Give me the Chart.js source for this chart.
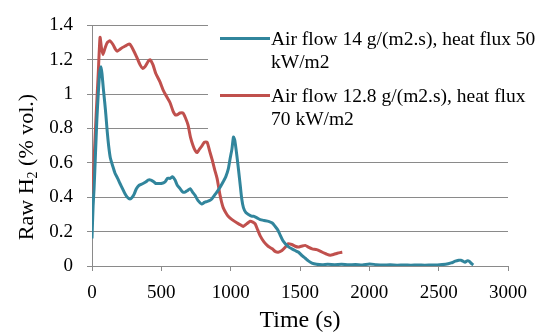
<!DOCTYPE html>
<html>
<head>
<meta charset="utf-8">
<script src="https://cdn.jsdelivr.net/npm/chart.js@4"></script>
<style>
  html, body { margin: 0; padding: 0; background: #fff; }
  #wrap { width: 543px; height: 335px; position: relative; }
</style>
</head>
<body>
<div id="wrap"><canvas id="chart"></canvas></div>
<script>
// Air flow 14 g/(m2.s), heat flux 50 kW/m2
const blueTime = [0, 8, 15, 25, 35, 45, 55, 65, 72, 82, 92, 100, 110, 120, 132, 150, 166, 185, 202, 220, 238, 255, 274, 290, 305, 320, 340, 368, 390, 404, 425, 445, 460, 476, 500, 527, 545, 565, 580, 599, 615, 635, 655, 671, 690, 708, 725, 744, 765, 792, 810, 828, 846, 864, 882, 900, 925, 946, 965, 983, 995, 1009, 1020, 1030, 1045, 1058, 1069, 1080, 1092, 1110, 1128, 1150, 1164, 1190, 1213, 1240, 1273, 1300, 1321, 1340, 1357, 1375, 1394, 1420, 1442, 1465, 1490, 1515, 1538, 1560, 1586, 1620, 1660, 1700, 1750, 1800, 1850, 1900, 1950, 2000, 2050, 2100, 2150, 2200, 2250, 2300, 2350, 2400, 2450, 2490, 2550, 2590, 2620, 2645, 2660, 2675, 2690, 2705, 2720, 2735, 2750];
const blueValues = [0.16, 0.35, 0.45, 0.65, 0.85, 1.0, 1.12, 1.16, 1.12, 1.03, 0.95, 0.88, 0.78, 0.70, 0.63, 0.58, 0.54, 0.51, 0.48, 0.45, 0.42, 0.40, 0.39, 0.40, 0.42, 0.45, 0.47, 0.48, 0.49, 0.50, 0.50, 0.49, 0.48, 0.48, 0.48, 0.49, 0.51, 0.51, 0.52, 0.50, 0.47, 0.45, 0.43, 0.43, 0.44, 0.45, 0.43, 0.41, 0.38, 0.36, 0.37, 0.375, 0.38, 0.39, 0.41, 0.43, 0.46, 0.49, 0.52, 0.565, 0.62, 0.68, 0.75, 0.73, 0.64, 0.55, 0.47, 0.39, 0.34, 0.31, 0.30, 0.29, 0.29, 0.28, 0.27, 0.265, 0.26, 0.25, 0.23, 0.21, 0.18, 0.15, 0.13, 0.11, 0.10, 0.09, 0.08, 0.06, 0.045, 0.03, 0.017, 0.01, 0.007, 0.01, 0.008, 0.01, 0.007, 0.009, 0.006, 0.012, 0.008, 0.006, 0.007, 0.005, 0.006, 0.005, 0.006, 0.005, 0.006, 0.006, 0.01, 0.018, 0.028, 0.033, 0.034, 0.028, 0.022, 0.03, 0.028, 0.015, 0.006];

// Air flow 12.8 g/(m2.s), heat flux 70 kW/m2
const redTime = [5, 15, 30, 45, 58, 68, 79, 95, 110, 130, 150, 170, 181, 200, 217, 240, 260, 274, 296, 320, 347, 365, 383, 405, 419, 440, 460, 491, 515, 542, 563, 585, 600, 614, 635, 657, 675, 693, 710, 729, 745, 758, 775, 794, 810, 830, 848, 866, 885, 902, 915, 924, 935, 946, 965, 982, 1010, 1047, 1070, 1090, 1115, 1141, 1160, 1177, 1195, 1213, 1240, 1270, 1300, 1320, 1343, 1370, 1395, 1415, 1440, 1465, 1487, 1510, 1538, 1560, 1588, 1620, 1661, 1690, 1718, 1745, 1769, 1790, 1805];
const redValues = [0.42, 0.62, 0.88, 1.12, 1.33, 1.27, 1.23, 1.27, 1.30, 1.31, 1.29, 1.26, 1.25, 1.26, 1.27, 1.28, 1.29, 1.29, 1.26, 1.22, 1.17, 1.15, 1.16, 1.19, 1.20, 1.17, 1.12, 1.07, 1.02, 0.98, 0.95, 0.90, 0.88, 0.88, 0.89, 0.89, 0.86, 0.82, 0.75, 0.70, 0.67, 0.66, 0.68, 0.70, 0.72, 0.72, 0.67, 0.62, 0.56, 0.51, 0.45, 0.41, 0.37, 0.34, 0.31, 0.29, 0.27, 0.25, 0.24, 0.23, 0.245, 0.26, 0.255, 0.245, 0.21, 0.175, 0.14, 0.115, 0.10, 0.085, 0.08, 0.09, 0.11, 0.13, 0.125, 0.115, 0.11, 0.115, 0.12, 0.11, 0.10, 0.095, 0.08, 0.07, 0.063, 0.068, 0.074, 0.078, 0.08];

const seriesLabels = [
  ["Air flow 14 g/(m2.s), heat flux 50", "kW/m2"],
  ["Air flow 12.8 g/(m2.s), heat flux", "70 kW/m2"]
];
const seriesColors = ["#31859c", "#c0504d"];
const xTicks = [0, 500, 1000, 1500, 2000, 2500, 3000];
const yTicks = [0, 0.2, 0.4, 0.6, 0.8, 1, 1.2, 1.4];

const serif = "'Liberation Serif', 'Times New Roman', serif";
const gridColor = "#8a8a8a";

function toPoints(xs, ys) {
  return xs.map((x, i) => ({ x: x, y: ys[i] }));
}

// white legend box drawn over the grid, like the spreadsheet original
const legendBox = {
  id: "legendBox",
  beforeDatasetsDraw(chart) {
    const { ctx, chartArea } = chart;
    const left = chartArea.left + 116;
    ctx.save();
    ctx.fillStyle = "#fff";
    ctx.fillRect(left, chartArea.top - 8, chart.width - left, 118);
    ctx.restore();
  },
  afterDraw(chart) {
    const { ctx, chartArea } = chart;
    const sx = chartArea.left + 128;
    const tx = chartArea.left + 179;
    ctx.save();
    ctx.font = "19.5px " + serif;
    ctx.textBaseline = "middle";
    ctx.fillStyle = "#000";
    seriesLabels.forEach((lines, i) => {
      const y = chartArea.top + 13 + i * 57;
      ctx.strokeStyle = seriesColors[i];
      ctx.lineWidth = 3;
      ctx.beginPath();
      ctx.moveTo(sx, y);
      ctx.lineTo(sx + 50, y);
      ctx.stroke();
      lines.forEach((t, j) => ctx.fillText(t, tx, y + 1 + j * 23));
    });
    ctx.restore();
  }
};

// y axis title with subscript 2
const yTitle = {
  id: "yTitle",
  afterDraw(chart) {
    const { ctx } = chart;
    const big = "22px " + serif, small = "14px " + serif;
    const parts = [["Raw H", big, 0], ["2", small, 6], [" (% vol.)", big, 0]];
    ctx.save();
    let total = 0;
    parts.forEach(p => { ctx.font = p[1]; total += ctx.measureText(p[0]).width; });
    ctx.translate(27, 167);
    ctx.rotate(-Math.PI / 2);
    ctx.fillStyle = "#000";
    ctx.textBaseline = "middle";
    let x = -total / 2;
    parts.forEach(p => {
      ctx.font = p[1];
      ctx.fillText(p[0], x, p[2]);
      x += ctx.measureText(p[0]).width;
    });
    ctx.restore();
  }
};

new Chart(document.querySelector("#chart"), {
  type: "line",
  data: {
    datasets: [
      {
        label: seriesLabels[0].join(" "),
        data: toPoints(blueTime, blueValues),
        borderColor: seriesColors[0],
        borderWidth: 3,
        pointRadius: 0,
        tension: 0.2
      },
      {
        label: seriesLabels[1].join(" "),
        data: toPoints(redTime, redValues),
        borderColor: seriesColors[1],
        borderWidth: 3,
        pointRadius: 0,
        tension: 0.2
      }
    ]
  },
  options: {
    responsive: true,
    maintainAspectRatio: false,
    animation: false,
    layout: { padding: { top: 20, right: 35, left: 0, bottom: 0 } },
    plugins: { legend: { display: false }, tooltip: { enabled: false } },
    scales: {
      x: {
        type: "linear",
        min: 0,
        max: 3000,
        afterBuildTicks: s => { s.ticks = xTicks.map(v => ({ value: v })); },
        afterFit: s => { s.height = 69; },
        ticks: { font: { family: serif, size: 19 }, color: "#000", padding: 11, maxRotation: 0, callback: v => String(v) },
        grid: { drawOnChartArea: false, tickLength: 5, tickColor: gridColor },
        border: { color: gridColor },
        title: { display: true, text: "Time (s)", font: { family: serif, size: 24 }, color: "#000", padding: { top: 0, bottom: 0 } }
      },
      y: {
        min: 0,
        max: 1.4,
        afterBuildTicks: s => { s.ticks = yTicks.map(v => ({ value: v })); },
        afterFit: s => { s.width = 92; },
        ticks: { font: { family: serif, size: 19 }, color: "#000", padding: 14, callback: v => String(v) },
        grid: { color: gridColor, tickLength: 5, tickColor: gridColor },
        border: { color: gridColor }
      }
    }
  },
  plugins: [legendBox, yTitle]
});
</script>
</body>
</html>
